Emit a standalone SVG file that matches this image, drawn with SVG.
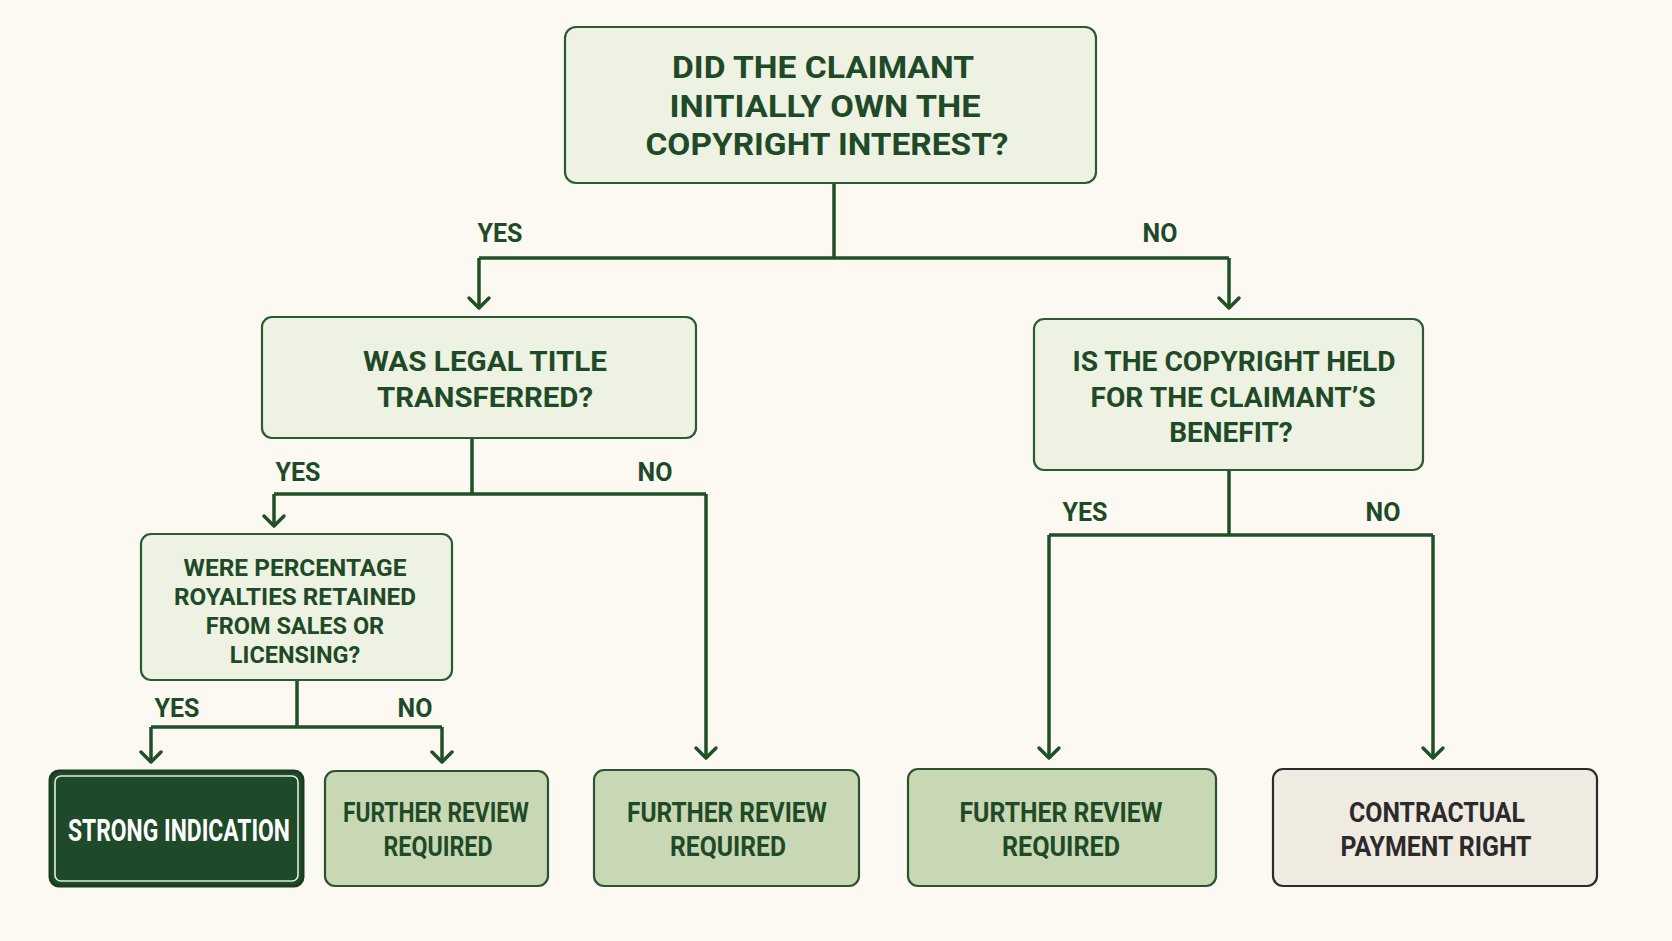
<svg xmlns="http://www.w3.org/2000/svg" width="1672" height="941" viewBox="0 0 1672 941">
<defs>
<style>
.bg{fill:#fcf9f2}
.q{fill:#edf2e2;stroke:#2c5a33;stroke-width:2.2}
.rev{fill:#c9d8b4;stroke:#2d5232;stroke-width:2.2}
.strong{fill:#1f4a29;stroke:#1a3d21;stroke-width:3}
.inner{fill:none;stroke:#e4ecdc;stroke-width:1.6}
.pay{fill:#efebe1;stroke:#2b2b2b;stroke-width:2.2}
text{font-family:Roboto,"Liberation Sans",sans-serif;font-weight:700;text-anchor:middle}
.qt{fill:#1f4a27}
.t1{font-size:31px}
.t2{font-size:28px}
.t3{font-size:23.5px}
.lbl{font-size:25px;fill:#1f4a27}
.rt{font-size:28px;fill:#1f4a27}
.st{font-size:32px;fill:#ffffff}
.pt{font-size:28px;fill:#2a2a2a}
.ln{fill:none;stroke:#1f5027;stroke-width:3.5;stroke-linejoin:miter}
.ah{fill:none;stroke:#1f5027;stroke-width:3.5;stroke-linecap:round;stroke-linejoin:round}
</style>
</defs>
<rect class="bg" x="0" y="0" width="1672" height="941"/>

<g id="connectors">
<path class="ln" d="M834,183 V258 M479,258 H1229"/>
<path class="ln" d="M479,258 V306"/>
<path class="ln" d="M1229,258 V306"/>
<path class="ln" d="M472,438 V494 M274,494 H706"/>
<path class="ln" d="M274,494 V524"/>
<path class="ln" d="M706,494 V756"/>
<path class="ln" d="M297,680 V727 M151,727 H442"/>
<path class="ln" d="M151,727 V760"/>
<path class="ln" d="M442,727 V760"/>
<path class="ln" d="M1229,470 V535 M1049,535 H1433"/>
<path class="ln" d="M1049,535 V756"/>
<path class="ln" d="M1433,535 V756"/>
<path class="ah" d="M469,298 L479,308 L489,298"/>
<path class="ah" d="M1219,298 L1229,308 L1239,298"/>
<path class="ah" d="M264,516 L274,526 L284,516"/>
<path class="ah" d="M696,748 L706,758 L716,748"/>
<path class="ah" d="M141,752 L151,762 L161,752"/>
<path class="ah" d="M432,752 L442,762 L452,752"/>
<path class="ah" d="M1039,748 L1049,758 L1059,748"/>
<path class="ah" d="M1423,748 L1433,758 L1443,748"/>
<text class="lbl" x="500" y="242">YES</text>
<text class="lbl" x="1160" y="242">NO</text>
<text class="lbl" x="298" y="481">YES</text>
<text class="lbl" x="655" y="481">NO</text>
<text class="lbl" x="177" y="717">YES</text>
<text class="lbl" x="415" y="717">NO</text>
<text class="lbl" x="1085" y="521">YES</text>
<text class="lbl" x="1383" y="521">NO</text>
</g>

<g id="q1">
<rect class="q" x="565" y="27" width="531" height="156" rx="11"/>
<text class="qt t1" x="823" y="78" textLength="302" lengthAdjust="spacingAndGlyphs">DID THE CLAIMANT</text>
<text class="qt t1" x="825" y="117" textLength="311" lengthAdjust="spacingAndGlyphs">INITIALLY OWN THE</text>
<text class="qt t1" x="827" y="155" textLength="363" lengthAdjust="spacingAndGlyphs">COPYRIGHT INTEREST?</text>
</g>

<g id="q2">
<rect class="q" x="262" y="317" width="434" height="121" rx="10"/>
<text class="qt t2" x="485" y="371" textLength="244" lengthAdjust="spacingAndGlyphs">WAS LEGAL TITLE</text>
<text class="qt t2" x="485" y="407" textLength="216" lengthAdjust="spacingAndGlyphs">TRANSFERRED?</text>
</g>

<g id="q3">
<rect class="q" x="1034" y="319" width="389" height="151" rx="10"/>
<text class="qt t2" x="1234" y="371" textLength="323" lengthAdjust="spacingAndGlyphs">IS THE COPYRIGHT HELD</text>
<text class="qt t2" x="1233" y="407" textLength="285" lengthAdjust="spacingAndGlyphs">FOR THE CLAIMANT’S</text>
<text class="qt t2" x="1231" y="442">BENEFIT?</text>
</g>

<g id="q4">
<rect class="q" x="141" y="534" width="311" height="146" rx="10"/>
<text class="qt t3" x="295" y="576" textLength="223" lengthAdjust="spacingAndGlyphs">WERE PERCENTAGE</text>
<text class="qt t3" x="295" y="605" textLength="242" lengthAdjust="spacingAndGlyphs">ROYALTIES RETAINED</text>
<text class="qt t3" x="295" y="634">FROM SALES OR</text>
<text class="qt t3" x="295" y="663">LICENSING?</text>
</g>

<g id="strong">
<rect class="strong" x="50" y="771" width="253" height="115" rx="9"/>
<rect class="inner" x="55" y="776" width="243" height="105" rx="6"/>
<text class="st" x="179" y="841" textLength="222" lengthAdjust="spacingAndGlyphs">STRONG INDICATION</text>
</g>

<g id="rev1">
<rect class="rev" x="325" y="771" width="223" height="115" rx="10"/>
<text class="rt" x="436" y="822" textLength="186" lengthAdjust="spacingAndGlyphs">FURTHER REVIEW</text>
<text class="rt" x="438" y="856" textLength="109" lengthAdjust="spacingAndGlyphs">REQUIRED</text>
</g>

<g id="rev2">
<rect class="rev" x="594" y="770" width="265" height="116" rx="10"/>
<text class="rt" x="727" y="822" textLength="200" lengthAdjust="spacingAndGlyphs">FURTHER REVIEW</text>
<text class="rt" x="728" y="856" textLength="116" lengthAdjust="spacingAndGlyphs">REQUIRED</text>
</g>

<g id="rev3">
<rect class="rev" x="908" y="769" width="308" height="117" rx="10"/>
<text class="rt" x="1061" y="822" textLength="203" lengthAdjust="spacingAndGlyphs">FURTHER REVIEW</text>
<text class="rt" x="1061" y="856" textLength="118" lengthAdjust="spacingAndGlyphs">REQUIRED</text>
</g>

<g id="pay">
<rect class="pay" x="1273" y="769" width="324" height="117" rx="10"/>
<text class="pt" x="1437" y="822" textLength="176" lengthAdjust="spacingAndGlyphs">CONTRACTUAL</text>
<text class="pt" x="1436" y="856" textLength="191" lengthAdjust="spacingAndGlyphs">PAYMENT RIGHT</text>
</g>
</svg>
